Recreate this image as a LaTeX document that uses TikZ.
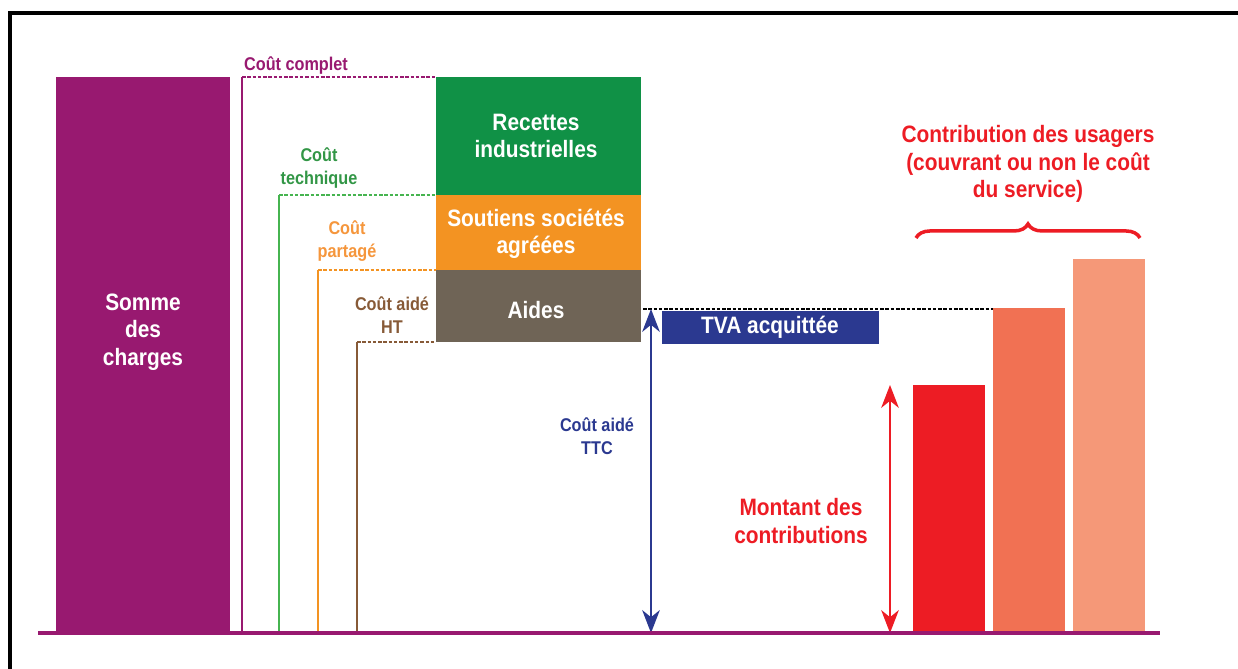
\documentclass[tikz,border=0pt]{standalone}
\usepackage{fontspec}
\setmainfont{Liberation Sans}[FakeStretch=0.88]
\usetikzlibrary{arrows.meta,decorations.pathreplacing}
\definecolor{prune}{RGB}{152,25,112}
\definecolor{vertrec}{RGB}{16,145,70}
\definecolor{vertlab}{RGB}{50,150,70}
\definecolor{vertligne}{RGB}{70,180,80}
\definecolor{orangesout}{RGB}{243,147,34}
\definecolor{orangelab}{RGB}{245,150,60}
\definecolor{brunaide}{RGB}{111,100,86}
\definecolor{brunlab}{RGB}{135,90,55}
\definecolor{bleutva}{RGB}{43,57,144}
\definecolor{rouge}{RGB}{237,28,36}
\definecolor{saumon}{RGB}{241,113,83}
\definecolor{saumonclair}{RGB}{245,152,120}
\begin{document}
\begin{tikzpicture}[x=0.02cm, y=-0.02cm,
    grand/.style = {font=\bfseries\fontsize{13.5}{15.6}\selectfont, align=center, inner sep=0pt},
    petit/.style = {font=\bfseries\fontsize{10.5}{13}\selectfont, align=center, inner sep=0pt},
    pointille/.style = {dash pattern=on 2pt off 1pt, line width=1pt},
    fleche/.style = {line width=1.3pt, {Stealth[length=13pt,width=10pt,inset=4pt]}-{Stealth[length=13pt,width=10pt,inset=4pt]}}]
    \useasboundingbox (0,0) rectangle (1238,669);
    % cadre
    \draw[line width=2pt] (10,669) -- (10,13) -- (1238,13);
    % colonne des charges
    \fill[prune] (56,77) rectangle (230,633);
    \node (somme) at (143,332) [grand, text=white]{Somme\\des\\charges};
    % empilement
    \fill[vertrec] (436,77) rectangle (641,195);
    \fill[orangesout] (436,195) rectangle (641,270);
    \fill[brunaide] (436,270) rectangle (641,342);
    \node (recettes) at (536,136) [grand, text=white]{Recettes\\industrielles};
    \node (soutiens) at (536,234) [grand, text=white]{Soutiens sociétés\\agréées};
    \node (aides) at (536,310) [grand, text=white]{Aides};
    % niveaux de cout
    \coordinate (sol) at (38,633);
    \coordinate (complet) at (242,77);
    \coordinate (technique) at (279,195);
    \coordinate (partage) at (318,270);
    \coordinate (aideht) at (357,342);
    \draw[prune, line width=1.2pt] (complet) -- (complet |- sol);
    \draw[prune, pointille] (complet) -- (436,77);
    \draw[vertligne, line width=1.2pt] (technique) -- (technique |- sol);
    \draw[vertligne, pointille] (technique) -- (436,195);
    \draw[orangesout, line width=1.2pt] (partage) -- (partage |- sol);
    \draw[orangesout, pointille] (partage) -- (436,270);
    \draw[brunlab, line width=1.2pt] (aideht) -- (aideht |- sol);
    \draw[brunlab, pointille] (aideht) -- (436,342);
    \node (labcomplet) at (296,66) [petit, text=prune]{Coût complet};
    \node (labtechnique) at (319,168) [petit, text=vertlab]{Coût\\technique};
    \node (labpartage) at (347,241) [petit, text=orangelab]{Coût\\partagé};
    \node (labht) at (392,315) [petit, text=brunlab]{Coût aidé\\HT};
    % TVA
    \coordinate (ttchaut) at (651,309);
    \coordinate (ttcbas) at (651,633);
    \draw[pointille, black] (643,309) -- (993,309);
    \fill[bleutva] (662,311) rectangle (879,344);
    \node (tva) at (770,327) [grand, text=white]{TVA acquittée};
    \draw[fleche, bleutva] (ttchaut) -- (ttcbas);
    \node (labttc) at (597,436) [petit, text=bleutva]{Coût aidé\\TTC};
    % contributions
    \fill[rouge] (913,385) rectangle (985,633);
    \fill[saumon] (993,308) rectangle (1065,633);
    \fill[saumonclair] (1073,259) rectangle (1145,633);
    \coordinate (montanthaut) at (890,385);
    \coordinate (montantbas) at (890,633);
    \draw[fleche, rouge] (montanthaut) -- (montantbas);
    \node (montant) at (801,521) [grand, text=rouge]{Montant des\\contributions};
    \draw[rouge, line width=2pt, decorate, decoration={brace, amplitude=8pt}] (916,238) -- (1140,238);
    \node (usagers) at (1028,164) [grand, text=rouge]{Contribution des usagers\\(couvrant ou non le coût\\du service)};
    % ligne de base
    \draw[prune, line width=2pt] (sol) -- (1160,633);
\end{tikzpicture}
\end{document}
